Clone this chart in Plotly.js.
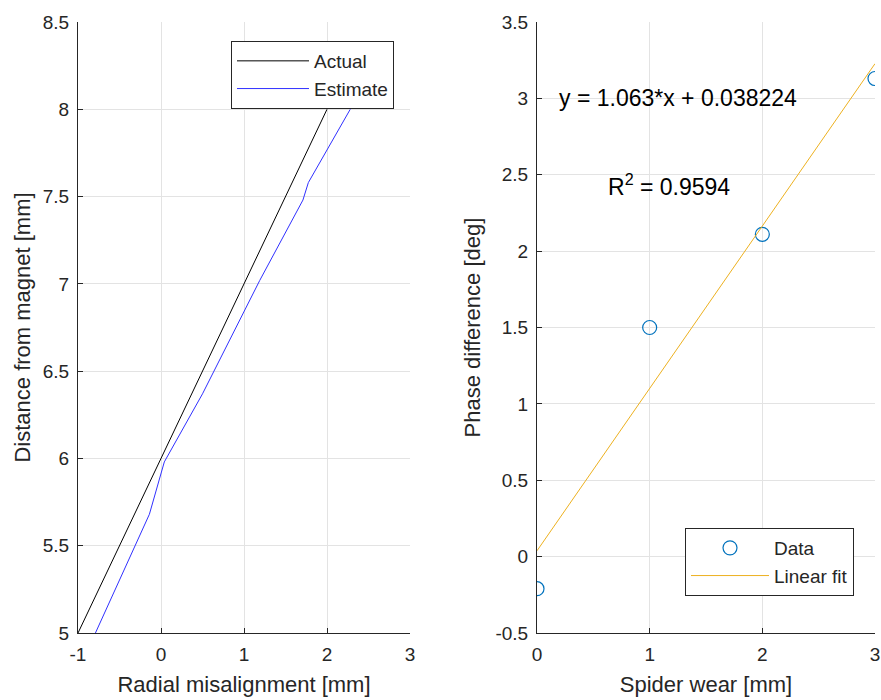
<!DOCTYPE html>
<html>
<head>
<meta charset="utf-8">
<script src="https://cdn.plot.ly/plotly-3.0.1.min.js"></script>
<style>html,body{margin:0;padding:0;background:#fff;}#chart{width:881px;height:700px;}</style>
</head>
<body>
<div id="chart"></div>
<script>
// Left panel: actual vs estimate
const actualX = [-1, 2];
const actualY = [5, 8];
const estimateX = [-0.79, -0.14, 0.04, 0.50, 1.19, 1.71, 1.775, 2.28];
const estimateY = [5.0, 5.68, 5.98, 6.37, 7.02, 7.48, 7.58, 8.0];

// Right panel: data and linear fit
const wearX = [0, 1, 2, 3];
const phaseY = [-0.21, 1.5, 2.11, 3.13];
const fitX = [0, 3];
const fitY = [0.038224, 3.227224];

// Tick labels
const leftXTicks = [-1, 0, 1, 2, 3];
const leftXLabels = ['-1', '0', '1', '2', '3'];
const leftYTicks = [5, 5.5, 6, 6.5, 7, 7.5, 8, 8.5];
const leftYLabels = ['5', '5.5', '6', '6.5', '7', '7.5', '8', '8.5'];
const rightXTicks = [0, 1, 2, 3];
const rightXLabels = ['0', '1', '2', '3'];
const rightYTicks = [-0.5, 0, 0.5, 1, 1.5, 2, 2.5, 3, 3.5];
const rightYLabels = ['-0.5', '0', '0.5', '1', '1.5', '2', '2.5', '3', '3.5'];

const fitText = 'y = 1.063*x + 0.038224';
const r2Text = 'R<sup>2</sup> = 0.9594';

const font = 'Liberation Sans, Arial, sans-serif';
const txt = '#262626';

const traces = [
  {x: actualX, y: actualY, mode: 'lines', name: 'Actual', line: {color: '#000000', width: 1}, xaxis: 'x', yaxis: 'y', legend: 'legend'},
  {x: estimateX, y: estimateY, mode: 'lines', name: 'Estimate', line: {color: '#3030ff', width: 1}, xaxis: 'x', yaxis: 'y', legend: 'legend'},
  {x: wearX, y: phaseY, mode: 'markers', name: 'Data', marker: {symbol: 'circle-open', color: '#0072BD', size: 14, line: {width: 1.2, color: '#0072BD'}}, xaxis: 'x2', yaxis: 'y2', legend: 'legend2'},
  {x: fitX, y: fitY, mode: 'lines', name: 'Linear fit', line: {color: '#EDB120', width: 1}, xaxis: 'x2', yaxis: 'y2', legend: 'legend2'}
];

const axisCommon = {
  showline: true, linecolor: txt, linewidth: 1,
  ticks: 'inside', ticklen: 5, tickcolor: txt,
  showgrid: true, gridcolor: '#e3e3e3', gridwidth: 1,
  zeroline: false, automargin: false,
  tickfont: {family: font, size: 19, color: txt},
  ticklabelstandoff: 4,
  tickmode: 'array',
  mirror: false
};
const titleFont = {family: font, size: 22, color: txt};

const layout = {
  width: 881, height: 700,
  margin: {l: 0, r: 0, t: 22, b: 67},
  paper_bgcolor: '#ffffff', plot_bgcolor: '#ffffff',
  font: {family: font, color: txt},
  xaxis: Object.assign({}, axisCommon, {domain: [78/881, 410/881], range: [-1, 3], anchor: 'y',
    tickvals: leftXTicks, ticktext: leftXLabels,
    title: {text: 'Radial misalignment [mm]', font: titleFont, standoff: 12}}),
  yaxis: Object.assign({}, axisCommon, {domain: [0, 1], range: [5, 8.5], anchor: 'x',
    tickvals: leftYTicks, ticktext: leftYLabels,
    title: {text: 'Distance from magnet [mm]', font: titleFont, standoff: 6}}),
  xaxis2: Object.assign({}, axisCommon, {domain: [537/881, 875/881], range: [0, 3], anchor: 'y2',
    tickvals: rightXTicks, ticktext: rightXLabels,
    title: {text: 'Spider wear [mm]', font: titleFont, standoff: 12}}),
  yaxis2: Object.assign({}, axisCommon, {domain: [0, 1], range: [-0.5, 3.5], anchor: 'x2',
    tickvals: rightYTicks, ticktext: rightYLabels,
    title: {text: 'Phase difference [deg]', font: titleFont, standoff: 8}}),
  legend: {x: 231/881, y: (633-41)/611, xanchor: 'left', yanchor: 'top',
    bgcolor: '#ffffff', bordercolor: txt, borderwidth: 1, itemwidth: 72,
    font: {family: font, size: 19, color: txt}, tracegroupgap: 0},
  legend2: {x: 685/881, y: (633-528)/611, xanchor: 'left', yanchor: 'top',
    bgcolor: '#ffffff', bordercolor: txt, borderwidth: 1, itemwidth: 78,
    font: {family: font, size: 19, color: txt}, tracegroupgap: 0},
  annotations: [
    {xref: 'x2', yref: 'y2', x: 1.25, y: 3.0, text: fitText, showarrow: false,
     font: {family: font, size: 23, color: '#000000'}},
    {xref: 'x2', yref: 'y2', x: 1.17, y: 2.43, text: r2Text, showarrow: false,
     font: {family: font, size: 23, color: '#000000'}}
  ],
  showlegend: true
};

Plotly.newPlot('chart', traces, layout, {displayModeBar: false, staticPlot: true});
</script>
</body>
</html>
